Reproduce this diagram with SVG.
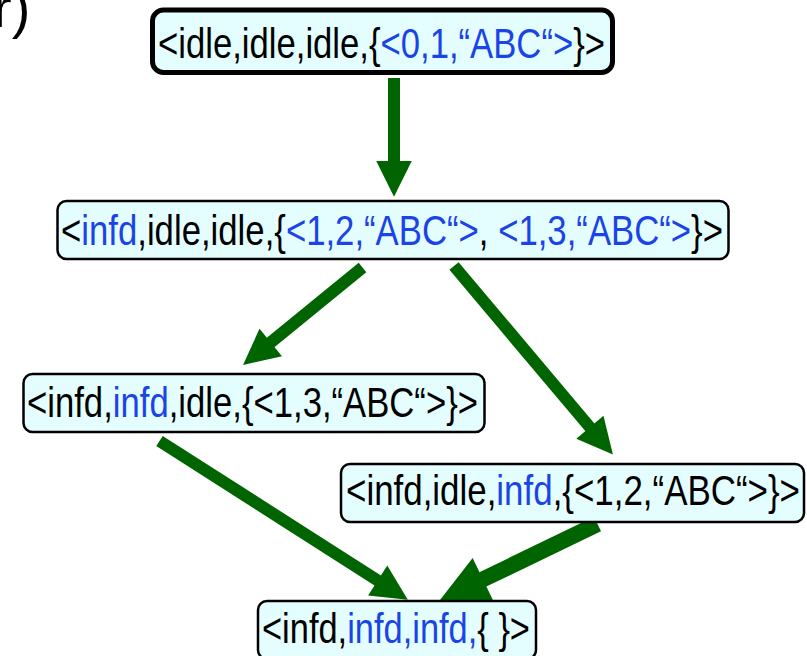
<svg xmlns="http://www.w3.org/2000/svg" width="807" height="656" viewBox="0 0 807 656">
  <style>
    .box { fill: #e4fdfe; stroke: #000; stroke-width: 2.5; }
    .box-start { fill: #e4fdfe; stroke: #000; stroke-width: 5; }
    .lbl { font-family: "Liberation Sans", Arial, sans-serif; font-size: 42px; fill: #000; }
    .b { fill: #1a44e6; }
    .edge { stroke: #006400; fill: none; }
  </style>
  <defs>
    <marker id="ah" markerUnits="strokeWidth" markerWidth="4" markerHeight="4" refX="0" refY="0" orient="auto" overflow="visible">
      <path d="M-0.08,-1.48 L2.9,0 L-0.08,1.48 Z" fill="#006400"/>
    </marker>
  </defs>
  <rect width="807" height="656" fill="#fff"/>

  <text class="lbl" x="-7" y="27" style="font-size:56px">r)</text>

  <g id="connectors">
    <line class="edge" x1="394" y1="78" x2="394" y2="162" stroke-width="12" marker-end="url(#ah)"/>
    <line class="edge" x1="362.5" y1="267.5" x2="270" y2="343" stroke-width="12" marker-end="url(#ah)"/>
    <line class="edge" x1="454" y1="266" x2="590.5" y2="428" stroke-width="12" marker-end="url(#ah)"/>
    <line class="edge" x1="159.5" y1="441" x2="378.5" y2="581" stroke-width="12" marker-end="url(#ah)"/>
    <line class="edge" x1="597.5" y1="524" x2="481.8" y2="579.9" stroke-width="16" marker-end="url(#ah)"/>
  </g>

  <g id="n1">
    <rect class="box-start" x="152.5" y="10" width="460" height="62.5" rx="11"/>
    <text class="lbl" x="158" y="58" textLength="447" lengthAdjust="spacingAndGlyphs">&lt;idle,idle,idle,{<tspan class="b">&lt;0,1,“ABC“&gt;</tspan>}&gt;</text>
  </g>

  <g id="n2">
    <rect class="box" x="57.5" y="201" width="671" height="58" rx="9"/>
    <text class="lbl" x="61" y="245" textLength="662" lengthAdjust="spacingAndGlyphs">&lt;<tspan class="b">infd</tspan>,idle,idle,{<tspan class="b">&lt;1,2,“ABC“&gt;</tspan>, <tspan class="b">&lt;1,3,“ABC“&gt;</tspan>}&gt;</text>
  </g>

  <g id="n3">
    <rect class="box" x="23.5" y="374" width="461" height="58" rx="9"/>
    <text class="lbl" x="27" y="417" textLength="451" lengthAdjust="spacingAndGlyphs">&lt;infd,<tspan class="b">infd</tspan>,idle,{&lt;1,3,“ABC“&gt;}&gt;</text>
  </g>

  <g id="n4">
    <rect class="box" x="341" y="464" width="463" height="58" rx="9"/>
    <text class="lbl" x="346" y="505" textLength="454" lengthAdjust="spacingAndGlyphs">&lt;infd,idle,<tspan class="b">infd</tspan>,{&lt;1,2,“ABC“&gt;}&gt;</text>
  </g>

  <g id="n5">
    <rect class="box" x="258" y="601" width="278" height="58" rx="9"/>
    <text class="lbl" x="262" y="643" textLength="268" lengthAdjust="spacingAndGlyphs">&lt;infd,<tspan class="b">infd,infd,</tspan>{ }&gt;</text>
  </g>
</svg>
